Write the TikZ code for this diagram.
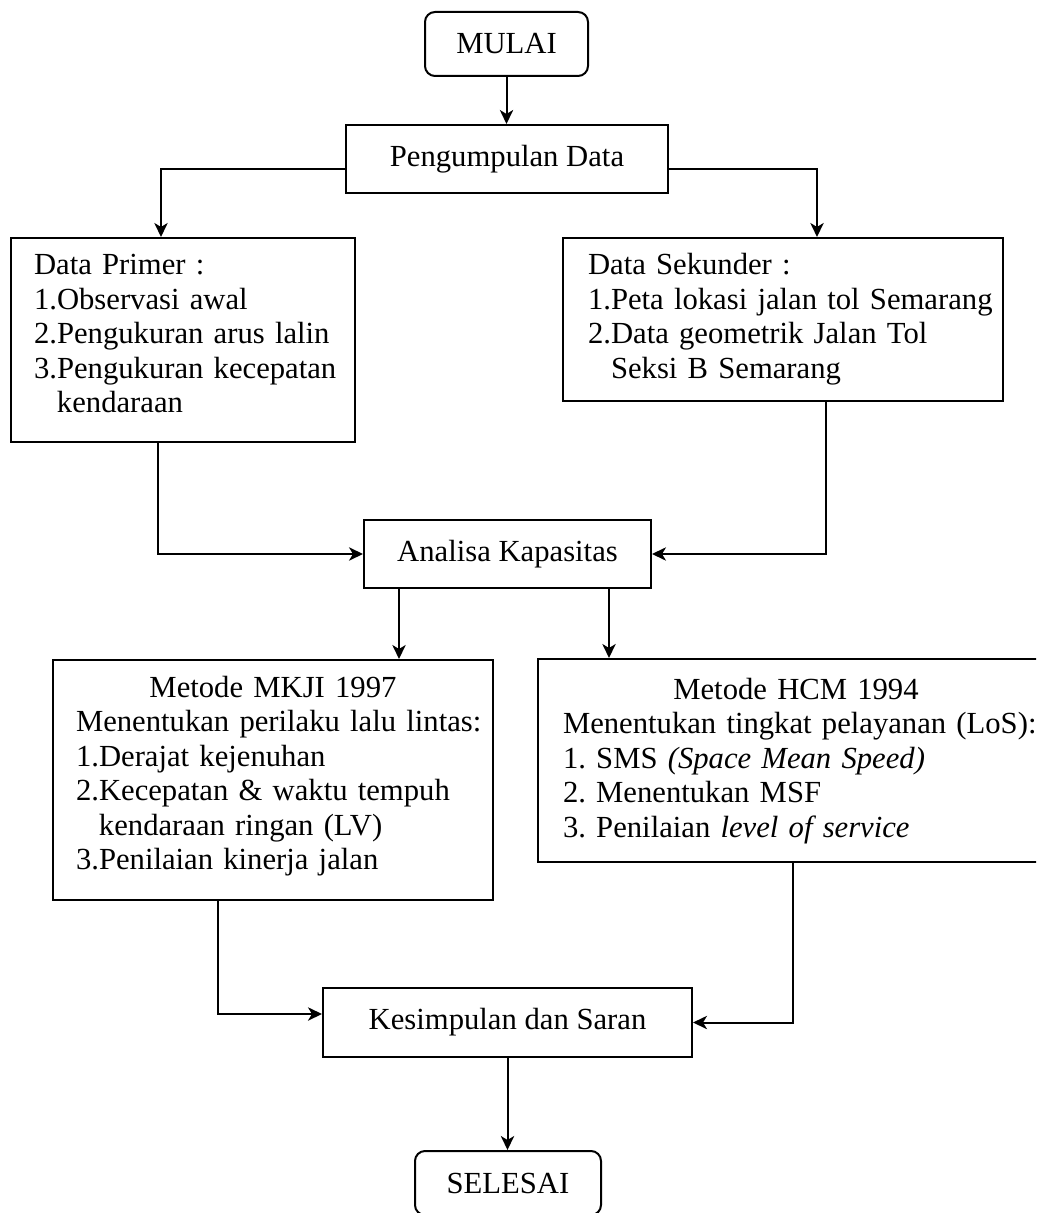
\documentclass[tikz,border=0pt]{standalone}
\usepackage{fontspec}
\setmainfont{Liberation Serif}
\usetikzlibrary{arrows.meta}

\begin{document}
\begin{tikzpicture}[x=0.3pt,y=-0.3pt,line width=0.6pt,
    font=\fontsize{9.2}{10.35}\selectfont\frenchspacing,
    box/.style={draw,rectangle,inner sep=0pt},
    ends/.style={draw,rounded corners=3pt,minimum width=48.9pt,minimum height=19.2pt,inner sep=0pt},
    list/.style={draw,anchor=north west,align=left,inner sep=0pt},
    arr/.style={-{Stealth[length=4.2pt,width=4pt,inset=1.2pt]}}]
            \useasboundingbox (0,0) rectangle (1036,1213);
            \clip (0,0) rectangle (1036,1213);
            \node[ends] (mulai) at (506.5,44) {MULAI};
            \node[box,minimum width=96.6pt,minimum height=20.4pt] (peng) at (507,159) {Pengumpulan Data};
            \node[list,text width=103.2pt,text height=11.1pt,text depth=50.1pt] (primer) at (10,237)
                {\leftskip=6.9pt\hyphenpenalty=10000 Data Primer :\\1.Observasi awal\\2.Pengukuran arus lalin\\3.Pengukuran kecepatan\\\hphantom{3.}kendaraan\par};
            \node[list,text width=132pt,text height=11.1pt,text depth=37.8pt] (sekunder) at (562,237)
                {\leftskip=7.5pt\hyphenpenalty=10000 Data Sekunder :\\1.Peta lokasi jalan tol Semarang\\2.Data geometrik Jalan Tol\\\hphantom{2.}Seksi B Semarang\par};
            \node[box,minimum width=86.1pt,minimum height=20.4pt] (analisa) at (507.5,554) {Analisa Kapasitas};
            \node[list,text width=132pt,text height=11.1pt,text depth=60.9pt] (mkji) at (52,659)
                {\makebox[\linewidth]{Metode MKJI 1997}\\\leftskip=6.9pt\hyphenpenalty=10000 Menentukan perilaku lalu lintas:\\1.Derajat kejenuhan\\2.Kecepatan \& waktu tempuh\\\hphantom{2.}kendaraan ringan (LV)\\3.Penilaian kinerja jalan\par};
            \node[list,text width=154.8pt,text height=12pt,text depth=48.9pt] (hcm) at (537,658)
                {\makebox[\linewidth]{Metode HCM 1994}\\\leftskip=7.5pt\hyphenpenalty=10000 Menentukan tingkat pelayanan (LoS):\\1. SMS \textit{(Space Mean Speed)}\\2. Menentukan MSF\\3. Penilaian \textit{level of service}\par};
            \node[box,minimum width=110.7pt,minimum height=20.7pt] (kesimpulan) at (507.5,1022.5) {Kesimpulan dan Saran};
            \node[ends,minimum width=55.8pt] (selesai) at (508,1183) {SELESAI};
            \draw[arr] (mulai.south) -- (mulai.south |- peng.north);
            \draw[arr] ([yshift=-3pt]peng.west) -| ([xshift=-6.6pt]primer.north);
            \draw[arr] ([yshift=-3pt]peng.east) -| ([xshift=10.2pt]sekunder.north);
            \draw[arr] ([xshift=-7.5pt]primer.south) |- (analisa.west);
            \draw[arr] ([xshift=12.9pt]sekunder.south) |- (analisa.east);
            \draw[arr] ([xshift=-32.55pt]analisa.south) -- ([xshift=-32.55pt]analisa.south |- mkji.north);
            \draw[arr] ([xshift=30.45pt]analisa.south) -- ([xshift=30.45pt]analisa.south |- hcm.north);
            \draw[arr] ([xshift=-16.5pt]mkji.south) |- ([yshift=2.55pt]kesimpulan.west);
            \draw[arr] ([xshift=-0.9pt]hcm.south) |- (kesimpulan.east);
            \draw[arr] (kesimpulan.south) -- (kesimpulan.south |- selesai.north);
        \end{tikzpicture}
\end{document}
